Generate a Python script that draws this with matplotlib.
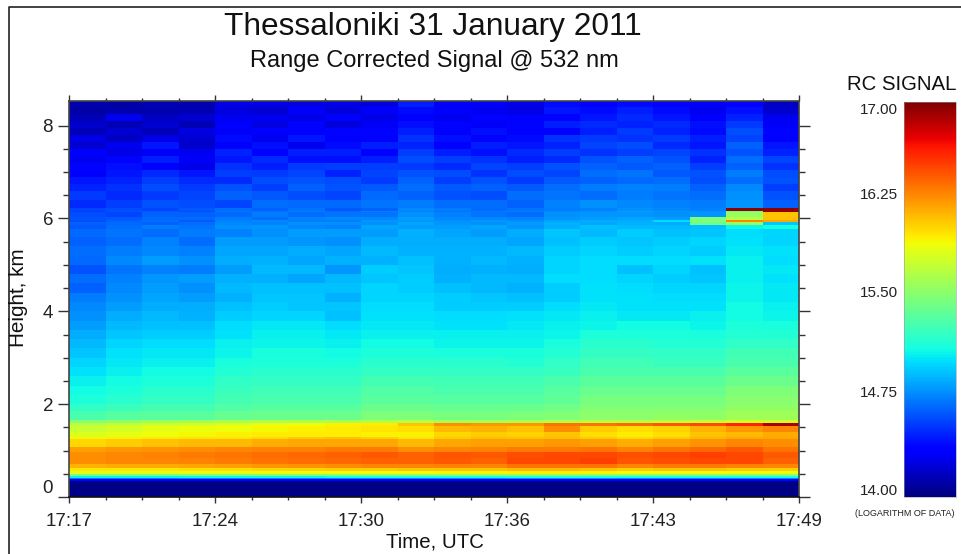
import matplotlib
matplotlib.use('Agg')
import matplotlib.pyplot as plt
from matplotlib.lines import Line2D
import numpy as np

plt.rcParams['font.family'] = ['Liberation Sans', 'DejaVu Sans']

W, H = 961, 554

# scan number along x, 20 profiles, 17:17 -> 17:49
n_scans = 20
time_ticks = [0, 4, 8, 12, 16, 20]
time_labels = ['17:17', '17:24', '17:30', '17:36', '17:43', '17:49']

# height bands in km
height_edges = [8.53, 8.4, 8.25, 8.1, 7.95, 7.8, 7.65, 7.5, 7.35, 7.2, 7.05, 6.9, 6.75, 6.6, 6.4,
                6.23, 6.17, 6.14, 6.03, 5.97, 5.93, 5.85, 5.77, 5.6, 5.4, 5.2, 5.0, 4.8, 4.6, 4.4,
                4.2, 4.0, 3.8, 3.6, 3.4, 3.2, 3.0, 2.8, 2.6, 2.4, 2.2, 2.0, 1.85, 1.66, 1.59, 1.52,
                1.4, 1.3, 1.24, 1.08, 0.97, 0.84, 0.72, 0.62, 0.56, 0.5, 0.45, 0.42, 0.38, 0.35, 0.0]

# log10 of the range corrected signal, one row per band, top to bottom
rc_signal = [
    [14.12, 14.10, 14.15, 14.12, 14.28, 14.28, 14.26, 14.28, 14.25, 14.46, 14.32, 14.32, 14.28, 14.40, 14.36, 14.40, 14.38, 14.32, 14.38, 14.18],
    [14.10, 14.12, 14.12, 14.14, 14.25, 14.22, 14.32, 14.24, 14.32, 14.40, 14.36, 14.30, 14.26, 14.44, 14.40, 14.46, 14.40, 14.30, 14.42, 14.20],
    [14.15, 14.30, 14.18, 14.22, 14.30, 14.30, 14.28, 14.34, 14.28, 14.36, 14.30, 14.38, 14.33, 14.38, 14.44, 14.50, 14.44, 14.36, 14.48, 14.30],
    [14.20, 14.15, 14.22, 14.15, 14.36, 14.26, 14.38, 14.25, 14.32, 14.42, 14.38, 14.32, 14.38, 14.46, 14.50, 14.48, 14.50, 14.42, 14.54, 14.32],
    [14.16, 14.22, 14.16, 14.26, 14.32, 14.36, 14.33, 14.38, 14.38, 14.46, 14.34, 14.42, 14.35, 14.36, 14.46, 14.55, 14.48, 14.40, 14.60, 14.38],
    [14.28, 14.18, 14.28, 14.22, 14.40, 14.30, 14.44, 14.34, 14.34, 14.52, 14.42, 14.38, 14.40, 14.52, 14.54, 14.52, 14.54, 14.46, 14.58, 14.34],
    [14.22, 14.30, 14.44, 14.20, 14.36, 14.42, 14.30, 14.40, 14.46, 14.48, 14.36, 14.46, 14.44, 14.48, 14.58, 14.60, 14.50, 14.44, 14.66, 14.44],
    [14.34, 14.28, 14.32, 14.30, 14.48, 14.38, 14.46, 14.46, 14.36, 14.56, 14.46, 14.42, 14.50, 14.56, 14.52, 14.56, 14.58, 14.52, 14.62, 14.48],
    [14.30, 14.38, 14.46, 14.32, 14.44, 14.50, 14.42, 14.42, 14.46, 14.60, 14.56, 14.52, 14.46, 14.50, 14.62, 14.66, 14.62, 14.48, 14.70, 14.58],
    [14.38, 14.42, 14.36, 14.28, 14.52, 14.46, 14.54, 14.56, 14.56, 14.54, 14.50, 14.58, 14.56, 14.62, 14.66, 14.64, 14.66, 14.56, 14.66, 14.52],
    [14.34, 14.44, 14.50, 14.44, 14.56, 14.54, 14.58, 14.48, 14.58, 14.62, 14.60, 14.52, 14.60, 14.58, 14.70, 14.72, 14.64, 14.62, 14.74, 14.60],
    [14.44, 14.48, 14.56, 14.50, 14.50, 14.60, 14.62, 14.60, 14.54, 14.66, 14.56, 14.62, 14.54, 14.64, 14.66, 14.68, 14.70, 14.60, 14.70, 14.62],
    [14.48, 14.52, 14.60, 14.54, 14.62, 14.56, 14.66, 14.62, 14.64, 14.70, 14.64, 14.66, 14.64, 14.70, 14.74, 14.76, 14.74, 14.66, 14.78, 14.56],
    [14.54, 14.50, 14.54, 14.58, 14.66, 14.64, 14.60, 14.58, 14.68, 14.66, 14.62, 14.60, 14.70, 14.72, 14.70, 14.74, 14.72, 14.70, 14.80, 14.62],
    [14.50, 14.56, 14.62, 14.60, 14.58, 14.70, 14.68, 14.68, 14.72, 14.74, 14.70, 14.70, 14.66, 14.76, 14.80, 14.78, 14.76, 14.74, 14.82, 14.66],
    [14.58, 14.60, 14.58, 14.64, 14.70, 14.66, 14.72, 14.64, 14.66, 14.78, 14.74, 14.68, 14.72, 14.74, 14.76, 14.80, 14.78, 14.76, 16.95, 16.95],
    [14.56, 14.62, 14.64, 14.60, 14.72, 14.72, 14.74, 14.70, 14.76, 14.76, 14.72, 14.74, 14.74, 14.78, 14.80, 14.84, 14.82, 14.80, 15.40, 16.95],
    [14.60, 14.58, 14.66, 14.66, 14.68, 14.74, 14.70, 14.72, 14.72, 14.80, 14.76, 14.72, 14.70, 14.80, 14.82, 14.82, 14.80, 14.82, 15.60, 16.10],
    [14.62, 14.64, 14.68, 14.68, 14.74, 14.70, 14.76, 14.78, 14.78, 14.84, 14.78, 14.78, 14.76, 14.82, 14.84, 14.86, 14.84, 15.50, 15.70, 16.12],
    [14.60, 14.66, 14.70, 14.64, 14.76, 14.78, 14.74, 14.74, 14.82, 14.82, 14.80, 14.82, 14.80, 14.86, 14.88, 14.88, 15.02, 15.52, 16.30, 16.20],
    [14.66, 14.68, 14.66, 14.70, 14.78, 14.76, 14.80, 14.80, 14.80, 14.86, 14.82, 14.80, 14.84, 14.90, 14.86, 14.90, 14.88, 15.45, 15.60, 14.96],
    [14.64, 14.70, 14.74, 14.72, 14.80, 14.82, 14.78, 14.76, 14.86, 14.84, 14.84, 14.86, 14.82, 14.88, 14.94, 14.92, 14.92, 14.94, 15.10, 15.12],
    [14.68, 14.72, 14.70, 14.74, 14.76, 14.80, 14.84, 14.84, 14.84, 14.90, 14.86, 14.84, 14.88, 14.96, 14.92, 14.98, 14.94, 14.96, 15.02, 15.00],
    [14.66, 14.70, 14.76, 14.70, 14.84, 14.84, 14.82, 14.80, 14.88, 14.88, 14.88, 14.88, 14.86, 14.94, 14.98, 14.96, 14.98, 15.00, 15.04, 15.00],
    [14.70, 14.74, 14.78, 14.76, 14.86, 14.86, 14.88, 14.86, 14.92, 14.90, 14.90, 14.90, 14.92, 14.98, 15.00, 14.98, 15.00, 14.98, 15.06, 15.04],
    [14.68, 14.78, 14.84, 14.80, 14.88, 14.90, 14.86, 14.90, 14.90, 14.94, 14.90, 14.92, 14.90, 15.00, 15.02, 15.02, 15.02, 15.04, 15.08, 15.02],
    [14.62, 14.72, 14.76, 14.74, 14.84, 14.92, 14.92, 14.82, 14.98, 14.96, 14.88, 14.90, 14.88, 15.00, 15.02, 14.94, 15.00, 14.94, 15.08, 15.06],
    [14.70, 14.76, 14.82, 14.84, 14.90, 14.90, 14.86, 14.92, 14.96, 14.98, 14.90, 14.92, 14.92, 15.02, 15.02, 15.00, 14.98, 14.96, 15.08, 15.04],
    [14.66, 14.78, 14.84, 14.80, 14.92, 14.94, 14.94, 14.94, 15.00, 14.98, 14.94, 14.92, 14.90, 14.98, 15.04, 15.02, 15.00, 15.00, 15.10, 15.06],
    [14.74, 14.80, 14.86, 14.84, 14.90, 14.96, 14.96, 14.90, 15.00, 15.00, 14.98, 14.96, 14.94, 14.98, 15.04, 15.04, 15.02, 15.02, 15.10, 15.06],
    [14.78, 14.84, 14.88, 14.88, 14.94, 14.98, 14.96, 14.96, 15.02, 15.02, 14.98, 14.98, 14.98, 15.02, 15.06, 15.04, 15.04, 15.04, 15.12, 15.08],
    [14.80, 14.88, 14.92, 14.90, 14.98, 15.00, 15.00, 14.94, 15.04, 15.04, 15.02, 15.02, 15.04, 15.06, 15.08, 15.06, 15.06, 15.08, 15.12, 15.10],
    [14.84, 14.92, 14.94, 14.94, 15.02, 15.06, 15.06, 15.02, 15.06, 15.06, 15.04, 15.04, 15.06, 15.08, 15.10, 15.12, 15.12, 15.10, 15.16, 15.14],
    [14.88, 14.96, 14.98, 14.98, 15.04, 15.08, 15.08, 15.06, 15.08, 15.08, 15.08, 15.08, 15.08, 15.10, 15.16, 15.16, 15.16, 15.14, 15.18, 15.18],
    [14.92, 15.00, 15.02, 15.02, 15.08, 15.10, 15.10, 15.08, 15.12, 15.12, 15.10, 15.10, 15.10, 15.14, 15.20, 15.20, 15.18, 15.18, 15.22, 15.22],
    [14.96, 15.04, 15.06, 15.06, 15.10, 15.14, 15.14, 15.12, 15.16, 15.16, 15.14, 15.14, 15.14, 15.18, 15.24, 15.24, 15.22, 15.22, 15.28, 15.28],
    [15.00, 15.06, 15.08, 15.08, 15.14, 15.16, 15.16, 15.16, 15.20, 15.20, 15.20, 15.20, 15.18, 15.22, 15.28, 15.28, 15.26, 15.26, 15.32, 15.32],
    [15.04, 15.08, 15.12, 15.12, 15.18, 15.20, 15.20, 15.20, 15.24, 15.24, 15.24, 15.24, 15.24, 15.26, 15.32, 15.32, 15.32, 15.32, 15.38, 15.38],
    [15.08, 15.12, 15.16, 15.16, 15.22, 15.24, 15.24, 15.24, 15.30, 15.30, 15.28, 15.28, 15.28, 15.32, 15.38, 15.38, 15.38, 15.38, 15.44, 15.44],
    [15.12, 15.16, 15.20, 15.20, 15.26, 15.28, 15.28, 15.28, 15.34, 15.34, 15.32, 15.32, 15.32, 15.36, 15.42, 15.42, 15.42, 15.42, 15.50, 15.50],
    [15.16, 15.20, 15.24, 15.24, 15.30, 15.32, 15.32, 15.32, 15.38, 15.38, 15.36, 15.36, 15.36, 15.40, 15.48, 15.48, 15.48, 15.48, 15.54, 15.54],
    [15.22, 15.26, 15.30, 15.30, 15.34, 15.36, 15.36, 15.36, 15.44, 15.44, 15.42, 15.42, 15.42, 15.46, 15.52, 15.52, 15.52, 15.52, 15.58, 15.58],
    [15.32, 15.36, 15.38, 15.38, 15.42, 15.44, 15.44, 15.44, 15.50, 15.50, 15.48, 15.48, 15.50, 15.52, 15.56, 15.56, 15.58, 15.58, 15.64, 15.64],
    [15.55, 15.58, 15.62, 15.64, 15.66, 15.68, 15.68, 15.68, 15.70, 15.72, 15.66, 15.66, 15.68, 15.70, 15.72, 15.72, 15.76, 15.78, 15.82, 15.80],
    [15.72, 15.76, 15.80, 15.82, 15.86, 15.90, 15.92, 15.96, 15.98, 16.10, 16.28, 16.24, 16.25, 16.36, 16.36, 16.40, 16.45, 16.50, 16.62, 16.88],
    [15.78, 15.82, 15.88, 15.90, 15.92, 15.94, 15.96, 15.98, 16.00, 16.02, 16.14, 16.16, 16.12, 16.28, 16.08, 16.02, 16.06, 16.16, 16.24, 16.30],
    [15.84, 15.88, 15.92, 15.94, 15.96, 15.98, 15.98, 15.98, 15.96, 15.96, 16.04, 16.08, 16.06, 16.10, 16.02, 15.98, 16.02, 16.10, 16.14, 16.18],
    [15.94, 15.96, 15.98, 16.00, 16.00, 16.03, 16.08, 16.10, 16.06, 16.00, 16.08, 16.12, 16.10, 16.12, 16.08, 16.03, 16.08, 16.14, 16.18, 16.20],
    [16.05, 16.08, 16.12, 16.14, 16.14, 16.18, 16.20, 16.20, 16.20, 16.14, 16.20, 16.22, 16.22, 16.24, 16.22, 16.18, 16.22, 16.26, 16.30, 16.28],
    [16.22, 16.24, 16.26, 16.28, 16.30, 16.32, 16.32, 16.34, 16.34, 16.28, 16.30, 16.32, 16.34, 16.34, 16.36, 16.32, 16.36, 16.40, 16.44, 16.36],
    [16.28, 16.30, 16.32, 16.34, 16.36, 16.38, 16.40, 16.42, 16.44, 16.42, 16.46, 16.44, 16.48, 16.50, 16.50, 16.48, 16.50, 16.52, 16.50, 16.44],
    [16.28, 16.30, 16.30, 16.32, 16.34, 16.36, 16.38, 16.40, 16.42, 16.42, 16.44, 16.42, 16.50, 16.50, 16.52, 16.46, 16.48, 16.50, 16.50, 16.42],
    [16.16, 16.18, 16.18, 16.20, 16.22, 16.24, 16.26, 16.28, 16.30, 16.30, 16.32, 16.30, 16.36, 16.36, 16.36, 16.30, 16.34, 16.34, 16.32, 16.30],
    [16.00, 16.00, 16.00, 16.02, 16.02, 16.04, 16.06, 16.08, 16.08, 16.10, 16.10, 16.10, 16.14, 16.14, 16.12, 16.08, 16.10, 16.10, 16.08, 16.08],
    [15.86, 15.86, 15.86, 15.88, 15.88, 15.90, 15.90, 15.92, 15.92, 15.92, 15.94, 15.94, 15.96, 15.96, 15.94, 15.92, 15.92, 15.92, 15.90, 15.90],
    [15.50, 15.50, 15.50, 15.52, 15.52, 15.54, 15.54, 15.54, 15.56, 15.56, 15.56, 15.56, 15.58, 15.58, 15.56, 15.56, 15.56, 15.56, 15.54, 15.54],
    [15.08, 15.08, 15.08, 15.10, 15.10, 15.10, 15.10, 15.12, 15.12, 15.12, 15.12, 15.12, 15.14, 15.14, 15.14, 15.12, 15.12, 15.12, 15.12, 15.12],
    [14.72, 14.72, 14.72, 14.74, 14.74, 14.74, 14.74, 14.76, 14.76, 14.76, 14.76, 14.76, 14.78, 14.78, 14.78, 14.76, 14.76, 14.76, 14.76, 14.76],
    [14.36, 14.36, 14.36, 14.36, 14.36, 14.36, 14.38, 14.38, 14.38, 14.38, 14.38, 14.38, 14.38, 14.38, 14.38, 14.38, 14.38, 14.38, 14.38, 14.38],
    [14.02, 14.02, 14.02, 14.02, 14.02, 14.02, 14.02, 14.02, 14.02, 14.02, 14.02, 14.02, 14.02, 14.02, 14.02, 14.02, 14.02, 14.02, 14.02, 14.02],
]

cbar_ticks = [14.0, 14.75, 15.5, 16.25, 17.0]
cbar_nudge = [6, 5, 6, 6, -8]  # px, labels do not sit on their values


def fig_axes(fig, x0, y0, x1, y1):
    # pixel box, y from the top
    return fig.add_axes([x0 / W, 1 - y1 / H, (x1 - x0) / W, (y1 - y0) / H])


fig = plt.figure(figsize=(W / 100, H / 100), dpi=100)

ax = fig_axes(fig, 69, 101, 799, 497)
x_edges = np.arange(n_scans + 1)
mesh = ax.pcolormesh(x_edges, height_edges, np.array(rc_signal), cmap='jet', vmin=14, vmax=17, shading='flat')
ax.set_xlim(0, n_scans)
ax.set_ylim(0, 8.53)

ax.set_xticks(time_ticks)
ax.set_xticklabels(time_labels, fontsize=13.5, color='#222222')
ax.set_xticks(np.arange(n_scans + 1), minor=True)
ax.set_yticks([0, 2, 4, 6, 8])
ax.set_yticklabels(['0', '2', '4', '6', '8'], fontsize=13.5, color='#222222')
ax.set_yticks(np.arange(0, 8.5, 0.5), minor=True)
ax.get_yticklabels()[0].set_verticalalignment('bottom')

ax.tick_params(axis='x', which='major', top=True, length=4, width=1, color='#333333', pad=7.5)
ax.tick_params(axis='x', which='minor', top=True, length=2.5, width=1, color='#333333')
ax.tick_params(axis='y', which='major', right=True, length=8, width=1, color='#333333', pad=3.5)
ax.tick_params(axis='y', which='minor', right=True, length=4, width=1, color='#333333')
for s in ax.spines.values():
    s.set_color('#444444')
    s.set_linewidth(1.2)
ax.spines['bottom'].set_color('#111111')

cax = fig_axes(fig, 904, 102, 956, 497)
cb = fig.colorbar(mesh, cax=cax)
cb.set_ticks([])
cb.outline.set_linewidth(0.4)
cb.outline.set_edgecolor('#999999')
for v, nudge in zip(cbar_ticks, cbar_nudge):
    cax.annotate('%.2f' % v, (0, v), xycoords=cax.get_yaxis_transform(), xytext=(-4.5, nudge * 0.72),
                 textcoords='offset points', ha='right', va='center', fontsize=11, color='#222222')

fig.text(433 / W, 1 - 27 / H, 'Thessaloniki 31 January 2011', ha='center', va='center', fontsize=22.8, color='#111111')
fig.text(434 / W, 1 - 61 / H, 'Range Corrected Signal @ 532 nm', ha='center', va='center', fontsize=17, color='#111111')
fig.text(902 / W, 1 - 85 / H, 'RC SIGNAL', ha='center', va='center', fontsize=14.7, color='#111111')
fig.text(904.5 / W, 1 - 513 / H, '(LOGARITHM OF DATA)', ha='center', va='center', fontsize=6.5, color='#222222')
fig.text(434.5 / W, 1 - 542 / H, 'Time, UTC', ha='center', va='center', fontsize=14.7, color='#111111')
fig.text(19 / W, 1 - 298 / H, 'Height, km', ha='center', va='center', rotation=90, fontsize=14.9, color='#111111')

# thin frame of the pasted slide, only left and top show
fig.add_artist(Line2D([8.5 / W, 8.5 / W, 1], [0, 1 - 6.5 / H, 1 - 6.5 / H], color='#222222', lw=1.2))

fig.savefig('out.png', dpi=100)
